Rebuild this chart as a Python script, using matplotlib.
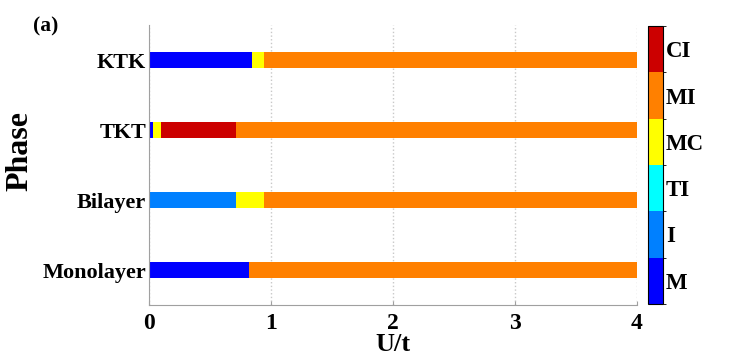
import numpy as np
import matplotlib
matplotlib.use("Agg")
from matplotlib import pyplot as plt
from matplotlib.colors import ListedColormap, BoundaryNorm
from matplotlib.cm import ScalarMappable

plt.rcParams['font.family'] = ['Liberation Serif', 'DejaVu Serif']
plt.rcParams['font.weight'] = 'bold'

# phase names (colorbar, bottom to top) and their colours
phase_names = ['M', 'I', 'TI', 'MC', 'MI', 'CI']
phase_colors = ['#0000ff', '#0080ff', '#00ffff', '#ffff00', '#ff8000', '#cc0000']

# systems, bottom to top
systems = ['Monolayer', 'Bilayer', 'TKT', 'KTK']
# segment boundaries in U/t and the phase index of each segment
mono_edges = [0, 0.82, 4.0]
mono_phase = [0, 4]
bi_edges = [0, 0.71, 0.94, 4.0]
bi_phase = [1, 3, 4]
tkt_edges = [0, 0.035, 0.098, 0.71, 4.0]
tkt_phase = [0, 3, 5, 4]
ktk_edges = [0, 0.846, 0.94, 4.0]
ktk_phase = [0, 3, 4]

all_edges = [mono_edges, bi_edges, tkt_edges, ktk_edges]
all_phase = [mono_phase, bi_phase, tkt_phase, ktk_phase]

fig = plt.figure(figsize=(7.47, 3.58), dpi=100)
ax = fig.add_axes([0.1995, 0.148, 0.6532, 0.782])

for i, (edges, ph) in enumerate(zip(all_edges, all_phase)):
    edges = np.array(edges)
    ax.barh(np.full(len(ph), i + 1), np.diff(edges), left=edges[:-1], height=0.23,
            color=[phase_colors[p] for p in ph], linewidth=0)

ax.set_xlim(0, 4)
ax.set_ylim(0.5, 4.5)
ax.set_xticks([0, 1, 2, 3, 4])
ax.set_xticklabels(['0', '1', '2', '3', '4'], fontsize=17, fontweight='bold')
ax.set_yticks([1, 2, 3, 4])
ax.set_yticklabels(systems, fontsize=16, fontweight='bold')
ax.tick_params(axis='y', length=0, pad=2)
ax.tick_params(axis='x', direction='in', length=3, color='#a0a0a0', pad=6)
ax.xaxis.grid(True, linestyle=':', color='#c8c8c8', linewidth=1)
ax.set_axisbelow(True)
for s in ['top', 'right']:
    ax.spines[s].set_visible(False)
for s in ['left', 'bottom']:
    ax.spines[s].set_color('#a0a0a0')
ax.set_xlabel('U/t', fontsize=19, fontweight='bold', labelpad=-1)
ax.set_ylabel('Phase', fontsize=23, fontweight='bold')
ax.yaxis.set_label_coords(-0.234, 0.55)
fig.text(0.044, 0.925, '(a)', fontsize=15.5, fontweight='bold', ha='left', va='center')

cax = fig.add_axes([0.8675, 0.151, 0.02, 0.776])
cmap = ListedColormap(phase_colors)
norm = BoundaryNorm(np.arange(len(phase_names) + 1), cmap.N)
cb = fig.colorbar(ScalarMappable(norm=norm, cmap=cmap), cax=cax)
cb.set_ticks(np.arange(len(phase_names)) + 0.5)
cb.set_ticklabels(phase_names)
cb.ax.tick_params(length=0, labelsize=16.5, pad=2)
for t in cb.ax.get_yticklabels():
    t.set_fontweight('bold')
cb.outline.set_linewidth(0.8)

fig.savefig('out.png', dpi=100)
